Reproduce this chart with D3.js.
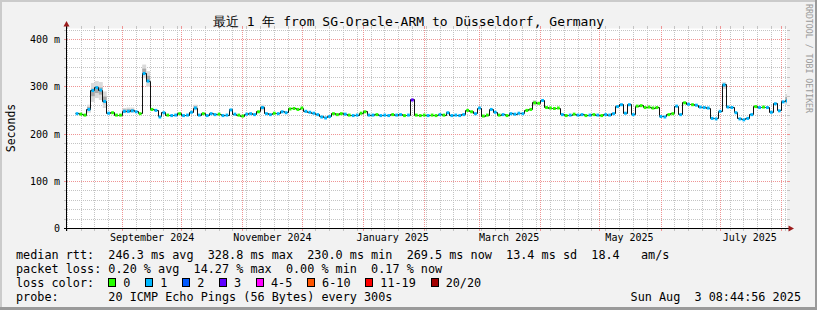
<!DOCTYPE html>
<html lang="en">
<head>
<meta charset="utf-8">
<title>SmokePing - last year</title>
<script src="https://cdn.jsdelivr.net/npm/d3@7"></script>
<style>
  body { margin: 0; background: #fff; }
  svg text { font-family: "DejaVu Sans Mono", monospace; white-space: pre; }
</style>
</head>
<body>

<svg id="chart" width="817" height="310"></svg>

<script>

// one median sample every 2 days, starting here
var firstSample = "2024-08-08T00:00:00Z"
var stepDays = 2

var medianMs = [
  243,242,240,252,292,298,293,269,244,245,
  240,240,248,248,249,247,243,328,312,252,
  250,236,245,240,239,240,243,239,240,246,
  255,240,243,239,243,241,242,239,240,251,
  242,240,238,242,243,241,247,256,243,241,
  244,243,247,245,253,254,252,255,248,246,
  244,241,236,234,237,243,241,243,242,240,
  239,240,244,247,240,240,241,239,240,239,
  241,240,241,239,240,272,240,239,240,239,
  240,239,241,240,245,239,240,239,241,250,
  247,243,255,238,240,252,246,240,241,239,
  243,242,244,243,250,252,266,265,271,256,
  255,254,255,241,239,240,242,240,241,239,
  240,241,240,239,241,240,243,258,262,244,
  262,241,259,260,256,257,255,256,237,236,
  241,243,259,241,266,263,262,261,257,256,
  255,233,232,248,304,257,256,245,232,230,
  233,241,258,256,257,256,246,264,249,268,
  270
]

// loss bin index per sample (0 = no loss, 1 = 1 of 20, 3 = 3 of 20 ...)
var lossBin = [
  1,0,0,1,1,1,1,1,1,0,
  0,0,1,1,1,1,0,1,1,0,
  1,1,1,0,1,1,0,1,1,1,
  1,1,0,1,1,1,0,1,1,1,
  1,0,0,1,1,1,0,1,1,1,
  0,1,1,1,0,0,0,0,1,1,
  1,1,1,1,1,0,0,0,1,0,
  1,1,0,0,1,1,0,1,1,1,
  0,1,1,0,1,3,0,0,0,1,
  0,0,1,0,1,1,1,1,1,0,
  0,1,1,0,0,1,1,0,1,0,
  1,1,1,1,0,0,0,0,1,0,
  0,0,0,1,0,1,0,1,1,0,
  1,0,1,0,1,1,1,1,1,1,
  1,1,0,0,0,0,0,0,1,1,
  0,0,1,1,0,1,0,1,1,1,
  1,1,1,1,1,1,1,1,1,1,
  1,1,0,1,0,1,1,1,1,1,
  1
]

// [sample index, low ms, high ms] where the ping spread is visible
var smoke = [
  [3,245,262],[4,268,308],[5,276,312],[6,272,310],[7,255,290],
  [12,244,255],[13,244,256],[14,245,256],[17,318,347],[18,300,333],
  [30,250,262],[47,250,262],[116,260,272],[164,295,310],[180,262,285]
]

var lossLabels = ["0", "1", "2", "3", "4-5", "6-10", "11-19", "20/20"]
var lossColors = ["#26ff00", "#00b8ff", "#0059ff", "#5e00ff", "#ff00ff", "#ff5500", "#ff0000", "#a10000"]

var yTicks = [0, 100, 200, 300, 400]
var yTickLabels = ["0", "100 m", "200 m", "300 m", "400 m"]

var titleText = "最近 1 年 from SG-Oracle-ARM to Düsseldorf, Germany"
var legendRows = [
  "median rtt:  246.3 ms avg  328.8 ms max  230.0 ms min  269.5 ms now  13.4 ms sd  18.4   am/s",
  "packet loss: 0.20 % avg  14.27 % max  0.00 % min  0.17 % now"
]
var lossRowLabel = "loss color:"
var probeRow = "probe:       20 ICMP Echo Pings (56 Bytes) every 300s"
var stampText = "Sun Aug  3 08:44:56 2025"


var svg = d3.select("#chart")
var W = 817, H = 310
var cw = 7.1   // legend char width

var x = d3.scaleUtc()
  .domain([new Date(Date.UTC(2024, 7, 3, 20, 45)), new Date(Date.UTC(2025, 7, 3, 20, 45))])
  .range([67, 787])

var y = d3.scaleLinear()
  .domain([0, 423.3])
  .range([228.5, 28.5])

var px = v => Math.floor(v) + 0.5

// frame
svg.append("rect").attr("width", W).attr("height", H).attr("fill", "#f2f2f2")
svg.append("rect").attr("x", 0).attr("y", 0).attr("width", W).attr("height", 2).attr("fill", "#cbcbcb")
svg.append("rect").attr("x", 0).attr("y", 0).attr("width", 2).attr("height", H).attr("fill", "#cbcbcb")
svg.append("rect").attr("x", 0).attr("y", H - 3).attr("width", W).attr("height", 3).attr("fill", "#9a9a9a")
svg.append("rect").attr("x", W - 2).attr("y", 0).attr("width", 2).attr("height", H).attr("fill", "#9a9a9a")

// canvas
svg.append("rect")
  .attr("x", 67).attr("y", 28.5)
  .attr("width", 720).attr("height", 200)
  .attr("fill", "#fff")

var grid = svg.append("g").attr("shape-rendering", "crispEdges")

var t0 = x.domain()[0], t1 = x.domain()[1]
var weeks = d3.utcSunday.range(t0, t1)
var months = d3.utcMonth.range(t0, t1)
var minorY = d3.range(20, 424, 20).filter(v => v % 100 != 0)

function vline(t, color) {
  var xx = px(x(t))
  grid.append("line").attr("x1", xx).attr("x2", xx).attr("y1", 28).attr("y2", 228)
    .attr("stroke", color).attr("stroke-dasharray", "1,1")
  grid.append("line").attr("x1", xx).attr("x2", xx).attr("y1", 228).attr("y2", 231).attr("stroke", color)
  grid.append("line").attr("x1", xx).attr("x2", xx).attr("y1", 26).attr("y2", 28.5).attr("stroke", color)
}
function hline(v, color) {
  var yy = px(y(v))
  grid.append("line").attr("x1", 67).attr("x2", 787).attr("y1", yy).attr("y2", yy)
    .attr("stroke", color).attr("stroke-dasharray", "1,1")
  grid.append("line").attr("x1", 64).attr("x2", 67).attr("y1", yy).attr("y2", yy).attr("stroke", color)
  grid.append("line").attr("x1", 787).attr("x2", 790).attr("y1", yy).attr("y2", yy).attr("stroke", color)
}

weeks.forEach(t => vline(t, "#c4c4c4"))
minorY.forEach(v => hline(v, "#c4c4c4"))
months.forEach(t => vline(t, "#ef9494"))
yTicks.filter(v => v > 0).forEach(v => hline(v, "#ef9494"))

// smoke
var plot = svg.append("g").attr("clip-path", "url(#clip)")
svg.append("clipPath").attr("id", "clip")
  .append("rect").attr("x", 67).attr("y", 20).attr("width", 720).attr("height", 209)

var start = new Date(firstSample)
var tOf = i => d3.utcDay.offset(start, i * stepDays)

smoke.forEach(function(s) {
  var x0 = x(tOf(s[0])), x1 = x(tOf(s[0] + 1))
  var span = s[2] - s[1]
  plot.append("rect")
    .attr("x", x0).attr("width", x1 - x0)
    .attr("y", y(s[2])).attr("height", y(s[1]) - y(s[2]))
    .attr("fill", "#dadada")
  plot.append("rect")
    .attr("x", x0).attr("width", x1 - x0)
    .attr("y", y(s[2] - span * 0.3)).attr("height", y(s[1] + span * 0.3) - y(s[2] - span * 0.3))
    .attr("fill", "#a9a9a9")
})

// median line
var pts = medianMs.map((v, i) => [tOf(i), v])
pts.push([tOf(medianMs.length), medianMs[medianMs.length - 1]])

plot.append("path")
  .datum(pts)
  .attr("fill", "none")
  .attr("stroke", "#111")
  .attr("stroke-width", 1)
  .attr("d", d3.line().x(d => px(x(d[0]))).y(d => px(y(d[1]))).curve(d3.curveStepAfter))

plot.selectAll("rect.loss")
  .data(medianMs)
  .enter().append("rect")
  .attr("class", "loss")
  .attr("x", (d, i) => x(tOf(i)) + 0.5)
  .attr("width", (d, i) => (x(tOf(i + 1)) - x(tOf(i))) * 0.7)
  .attr("y", d => y(d) - 1.5)
  .attr("height", 3)
  .attr("fill", (d, i) => lossColors[lossBin[i]])

// axes
var axes = svg.append("g").attr("shape-rendering", "crispEdges")
axes.append("line").attr("x1", 64).attr("x2", 790).attr("y1", 228.5).attr("y2", 228.5).attr("stroke", "#000")
axes.append("line").attr("x1", 66.5).attr("x2", 66.5).attr("y1", 231).attr("y2", 25).attr("stroke", "#000")
svg.append("path").attr("d", "M63.5,26.5L66.5,21L69.5,26.5Z").attr("fill", "#9b1c1c")
svg.append("path").attr("d", "M788.5,225.5L794,228.5L788.5,231.5Z").attr("fill", "#9b1c1c")

svg.selectAll("text.ylab")
  .data(yTicks)
  .enter().append("text")
  .attr("class", "ylab")
  .attr("x", 60)
  .attr("y", d => y(d))
  .attr("dy", "0.36em")
  .attr("text-anchor", "end")
  .attr("font-size", "10px")
  .text((d, i) => yTickLabels[i])

svg.selectAll("text.xlab")
  .data(d3.utcMonth.every(2).range(t0, t1))
  .enter().append("text")
  .attr("class", "xlab")
  .attr("x", d => x(d3.utcDay.offset(d, 15)))
  .attr("y", 241)
  .attr("text-anchor", "middle")
  .attr("font-size", "10px")
  .text(d => d3.utcFormat("%B %Y")(d))

// title and side texts
svg.append("text")
  .attr("x", 408.5).attr("y", 26)
  .attr("text-anchor", "middle")
  .attr("font-size", "13px")
  .text(titleText)

svg.append("text")
  .attr("transform", "translate(14.5,128) rotate(-90)")
  .attr("text-anchor", "middle")
  .attr("font-size", "11.5px")
  .text("Seconds")

svg.append("text")
  .attr("transform", "translate(805.5,4) rotate(90)")
  .attr("font-size", "9px")
  .attr("fill", "#9a9a9a")
  .attr("textLength", 109)
  .attr("lengthAdjust", "spacingAndGlyphs")
  .text("RRDTOOL / TOBI OETIKER")

// legend
var legendY = [258.5, 272.5, 286.5, 300.5]

legendRows.forEach(function(r, i) {
  svg.append("text").attr("x", 16).attr("y", legendY[i])
    .attr("font-size", "11.8px").text(r)
})

svg.append("text").attr("x", 16).attr("y", legendY[2])
  .attr("font-size", "11.8px").text(lossRowLabel)

var bx = 16 + 13 * cw
lossLabels.forEach(function(l, i) {
  svg.append("rect")
    .attr("x", Math.round(bx) + 0.5).attr("y", 278.5)
    .attr("width", 7).attr("height", 8)
    .attr("fill", lossColors[i])
    .attr("stroke", "#000")
  svg.append("text")
    .attr("x", bx + 15).attr("y", legendY[2])
    .attr("font-size", "11.8px")
    .text(l)
  bx += (l.length + 4.2) * cw
})

svg.append("text").attr("x", 16).attr("y", legendY[3])
  .attr("font-size", "11.8px").text(probeRow)

svg.append("text").attr("x", 801).attr("y", legendY[3])
  .attr("text-anchor", "end")
  .attr("font-size", "11.8px").text(stampText)

</script>
</body>
</html>
